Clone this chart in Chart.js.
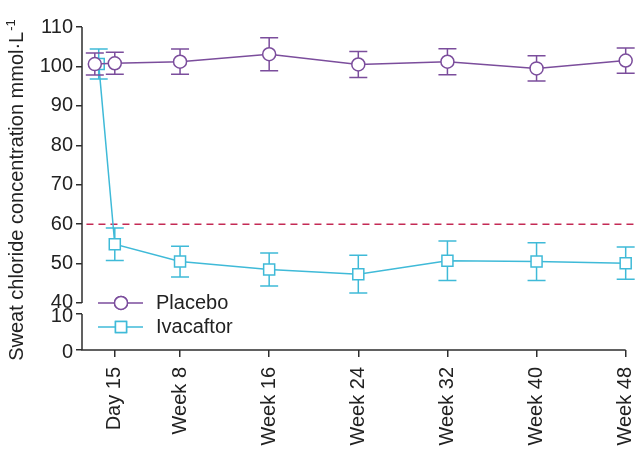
<!DOCTYPE html>
<html>
<head>
<meta charset="utf-8">
<script src="https://cdn.jsdelivr.net/npm/chart.js@4.4.0/dist/chart.umd.min.js"></script>
<style>
  html, body { margin: 0; padding: 0; background: #fff; }
  #wrap { width: 640px; height: 457px; position: relative; }
</style>
</head>
<body>
<div id="wrap"><canvas id="chart"></canvas></div>
<script>
// x positions are in weeks from baseline
const tickWeeks = [15 / 7, 8, 16, 24, 32, 40, 48];
const tickLabels = ["Day 15", "Week 8", "Week 16", "Week 24", "Week 32", "Week 40", "Week 48"];

const placeboWeeks = [0.35, 15 / 7, 8, 16, 24, 32, 40, 48];
const placeboMean = [100.6, 100.8, 101.2, 103.1, 100.5, 101.2, 99.5, 101.5];
const placeboErr = [2.8, 2.8, 3.2, 4.2, 3.3, 3.3, 3.2, 3.2];

const ivacaftorWeeks = [0.7, 15 / 7, 8, 16, 24, 32, 40, 48];
const ivacaftorMean = [100.6, 54.9, 50.5, 48.5, 47.3, 50.7, 50.5, 50.1];
const ivacaftorErr = [3.8, 4.1, 3.9, 4.2, 4.8, 5.0, 4.8, 4.1];

const upperTicks = [40, 50, 60, 70, 80, 90, 100, 110];
const lowerTicks = [0, 10];
const thresholdValue = 60;
const thresholdWeeks = [-0.4, 49];

const FONT = '"Liberation Sans", Arial, Helvetica, sans-serif';
const AXIS = "#2e2e2e";
const PURPLE = "#7b4d9c";
const CYAN = "#3fbad8";
const CRIMSON = "#c42a55";

function pts(xs, ys) {
  return xs.map((x, i) => ({ x: x, y: ys[i] }));
}

// error bars, axis lines, legend and the axis title
const extras = {
  id: "extras",
  beforeDatasetDraw(chart, args) {
    const ds = chart.data.datasets[args.index];
    if (!ds.errors) return;
    const meta = args.meta;
    const ys = chart.scales[meta.yAxisID];
    const ctx = chart.ctx;
    ctx.save();
    ctx.strokeStyle = ds.borderColor;
    ctx.lineWidth = 1.5;
    meta.data.forEach((p, i) => {
      const v = ds.data[i].y;
      const top = ys.getPixelForValue(v + ds.errors[i]);
      const bot = ys.getPixelForValue(v - ds.errors[i]);
      ctx.beginPath();
      ctx.moveTo(p.x, top);
      ctx.lineTo(p.x, bot);
      ctx.moveTo(p.x - 9, top);
      ctx.lineTo(p.x + 9, top);
      ctx.moveTo(p.x - 9, bot);
      ctx.lineTo(p.x + 9, bot);
      ctx.stroke();
    });
    ctx.restore();
  },
  afterDraw(chart) {
    const ctx = chart.ctx;
    const { x, y, y2 } = chart.scales;
    const left = chart.chartArea.left;
    ctx.save();
    ctx.strokeStyle = AXIS;
    ctx.lineWidth = 1.5;
    ctx.beginPath();
    ctx.moveTo(left, y.getPixelForValue(110));
    ctx.lineTo(left, y.getPixelForValue(40));
    ctx.moveTo(left, y2.getPixelForValue(10));
    ctx.lineTo(left, y2.getPixelForValue(0));
    ctx.lineTo(x.getPixelForValue(48), y2.getPixelForValue(0));
    ctx.stroke();

    // legend
    const rows = [0, 1].map((i) => chart.data.datasets[i]);
    const ly0 = y.getPixelForValue(40);
    ctx.font = "20px " + FONT;
    ctx.textBaseline = "middle";
    ctx.textAlign = "left";
    rows.forEach((ds, i) => {
      const ly = ly0 + i * 24;
      const lx = left + 16;
      ctx.strokeStyle = ds.borderColor;
      ctx.lineWidth = 1.5;
      ctx.beginPath();
      ctx.moveTo(lx, ly);
      ctx.lineTo(lx + 45, ly);
      ctx.stroke();
      ctx.fillStyle = "#fff";
      Chart.helpers.drawPoint(ctx, {
        pointStyle: ds.pointStyle,
        radius: ds.pointRadius,
        borderWidth: 1.5,
        rotation: 0
      }, lx + 23, ly);
      ctx.fill();
      ctx.stroke();
      ctx.fillStyle = "#222";
      ctx.fillText(ds.label, lx + 58, ly + 1);
    });

    // y title with superscript
    const main = "Sweat chloride concentration mmol\u00b7L";
    const sup = "-1";
    ctx.font = "20px " + FONT;
    const w1 = ctx.measureText(main).width;
    ctx.font = "13px " + FONT;
    const w2 = ctx.measureText(sup).width;
    const cy = (y.getPixelForValue(110) + y2.getPixelForValue(0)) / 2 + 2;
    ctx.translate(23, cy);
    ctx.rotate(-Math.PI / 2);
    ctx.fillStyle = "#222";
    ctx.textAlign = "left";
    ctx.textBaseline = "alphabetic";
    const start = -(w1 + w2) / 2;
    ctx.font = "20px " + FONT;
    ctx.fillText(main, start, 0);
    ctx.font = "13px " + FONT;
    ctx.fillText(sup, start + w1 + 1, -8);
    ctx.restore();
  }
};

const tickFont = { family: FONT, size: 20 };

new Chart(document.getElementById("chart"), {
  type: "line",
  data: {
    datasets: [
      {
        label: "Placebo",
        data: pts(placeboWeeks, placeboMean),
        errors: placeboErr,
        borderColor: PURPLE,
        backgroundColor: "#fff",
        pointBackgroundColor: "#fff",
        pointStyle: "circle",
        pointRadius: 6.5,
        pointBorderWidth: 1.5,
        borderWidth: 1.5,
        tension: 0,
        yAxisID: "y",
        order: 0,
        clip: false
      },
      {
        label: "Ivacaftor",
        data: pts(ivacaftorWeeks, ivacaftorMean),
        errors: ivacaftorErr,
        borderColor: CYAN,
        backgroundColor: "#fff",
        pointBackgroundColor: "#fff",
        pointStyle: "rect",
        pointRadius: 7.8,
        pointBorderWidth: 1.5,
        borderWidth: 1.5,
        tension: 0,
        yAxisID: "y",
        order: 1,
        clip: false
      },
      {
        label: "threshold",
        data: pts(thresholdWeeks, [thresholdValue, thresholdValue]),
        borderColor: CRIMSON,
        borderDash: [7, 5],
        borderWidth: 1.5,
        pointRadius: 0,
        yAxisID: "y",
        order: 2,
        clip: false
      }
    ]
  },
  options: {
    responsive: true,
    maintainAspectRatio: false,
    animation: false,
    events: [],
    layout: { padding: { top: 27, right: 3, bottom: 0, left: 0 } },
    plugins: { legend: { display: false }, tooltip: { enabled: false } },
    scales: {
      x: {
        type: "linear",
        min: -0.8,
        max: 48.45,
        afterBuildTicks: (s) => { s.ticks = tickWeeks.map((v) => ({ value: v })); },
        afterFit: (s) => { s.height = 107; s.paddingLeft = 0; s.paddingRight = 0; },
        ticks: {
          autoSkip: false,
          minRotation: 90,
          maxRotation: 90,
          padding: 10,
          color: "#222",
          font: tickFont,
          callback: (v, i) => tickLabels[i]
        },
        grid: { drawOnChartArea: false, tickLength: 7, color: AXIS, lineWidth: 1.5 },
        border: { display: false }
      },
      // left boxes are laid out in reverse, so the lower segment comes first
      y2: {
        type: "linear",
        position: "left",
        stack: "sweat",
        stackWeight: 41.5,
        min: 0,
        max: 11.53,
        afterBuildTicks: (s) => { s.ticks = lowerTicks.map((v) => ({ value: v })); },
        afterFit: (s) => { s.width = 82; },
        ticks: { autoSkip: false, padding: 3, labelOffset: 2, color: "#222", font: tickFont },
        grid: { drawOnChartArea: false, tickLength: 6, color: AXIS, lineWidth: 1.5 },
        border: { display: false }
      },
      y: {
        type: "linear",
        position: "left",
        stack: "sweat",
        stackWeight: 281.5,
        min: 38.6,
        max: 110,
        afterBuildTicks: (s) => { s.ticks = upperTicks.map((v) => ({ value: v })); },
        afterFit: (s) => { s.width = 82; },
        ticks: { autoSkip: false, padding: 3, color: "#222", font: tickFont },
        grid: { drawOnChartArea: false, tickLength: 6, color: AXIS, lineWidth: 1.5 },
        border: { display: false }
      }
    }
  },
  plugins: [extras]
});
</script>
</body>
</html>
